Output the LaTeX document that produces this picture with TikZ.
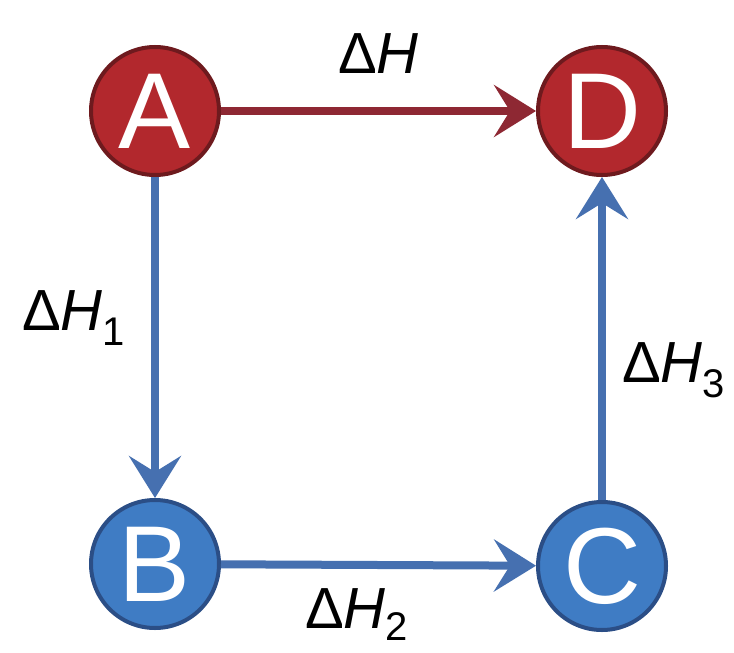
\documentclass[tikz,border=0pt]{standalone}
\usepackage{fontspec}
\setmainfont{Liberation Sans}
\usetikzlibrary{arrows.meta}
\definecolor{redfill}{HTML}{B2282D}
\definecolor{rededge}{HTML}{6E1A1E}
\definecolor{redline}{HTML}{8E2833}
\definecolor{bluefill}{HTML}{3F7CC4}
\definecolor{blueedge}{HTML}{2B4E86}
\definecolor{blueline}{HTML}{4670B0}
\tikzset{
  state/.style={circle, minimum size=128pt, inner sep=0pt, line width=4pt,
    text=white, font=\fontsize{108}{108}\selectfont},
  redstate/.style={state, fill=redfill, draw=rededge},
  bluestate/.style={state, fill=bluefill, draw=blueedge},
  conn/.style={line width=8pt, -{Stealth[length=42pt,width=52pt,inset=16pt]}},
  redconn/.style={conn, draw=redline, fill=redline},
  blueconn/.style={conn, draw=blueline, fill=blueline},
  lbl/.style={anchor=base west, inner sep=0pt, font=\fontsize{58}{58}\selectfont}
}
\newcommand{\dH}[1]{Δ\textit{H}\raisebox{-15pt}{\fontsize{40}{40}\selectfont #1}}
\newcommand{\dHlow}[1]{Δ\textit{H}\raisebox{-12pt}{\fontsize{40}{40}\selectfont #1}}
\begin{document}
\begin{tikzpicture}[x=1pt,y=-1pt]
\useasboundingbox (0,0) rectangle (734,653);
\fill[white] (0,0) rectangle (734,653);
\node[redstate]  (A) at (155,111) {A};
\node[redstate]  (D) at (602,111) {D};
\node[bluestate] (B) at (155,564) {B};
\node[bluestate] (C) at (602,566) {C};
\draw[redconn]  (A) -- (D);
\draw[blueconn] (A) -- (B);
\draw[blueconn] (B) -- (C);
\draw[blueconn] (C) -- (D);
\node[lbl] (lH)  at (338,73)  {Δ\textit{H}};
\node[lbl] (lH1) at (22,330)  {\dH{1}};
\node[lbl] (lH3) at (622,382) {\dH{3}};
\node[lbl] (lH2) at (305,628) {\dHlow{2}};
\end{tikzpicture}
\end{document}
